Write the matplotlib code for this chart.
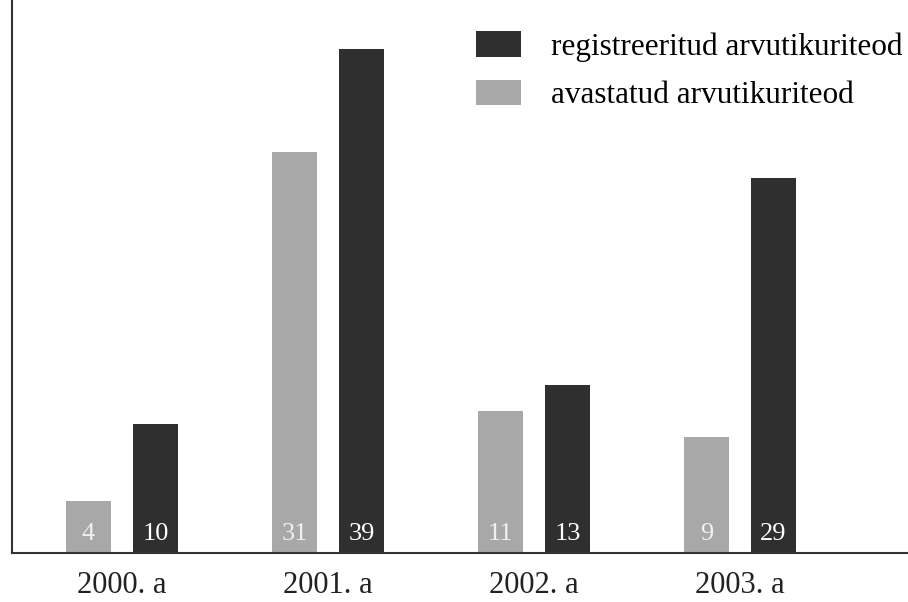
import matplotlib.pyplot as plt
import numpy as np

years = ["2000. a", "2001. a", "2002. a", "2003. a"]
avastatud = [4, 31, 11, 9]
registreeritud = [10, 39, 13, 29]

dark = "#2f2f2f"
light = "#a8a8a8"

plt.rcParams["font.family"] = "Liberation Serif"

fig = plt.figure(figsize=(9.08, 6.02), dpi=100)
ax = fig.add_axes([12 / 908, 49 / 602, 896 / 908, 553 / 602])

x = np.arange(len(years))
w = 0.218
off = 0.163
b1 = ax.bar(x - off, avastatud, w, color=light, label="avastatud arvutikuriteod")
b2 = ax.bar(x + off, registreeritud, w, color=dark, label="registreeritud arvutikuriteod")

for xi, v in zip(x, avastatud):
    ax.text(xi - off, 1.5, str(v), ha="center", va="center", color="#f0f0f0", fontsize=19)
for xi, v in zip(x, registreeritud):
    ax.text(xi + off, 1.5, str(v), ha="center", va="center", color="white", fontsize=19)

ax.set_xlim(-0.534, 3.816)
ax.set_ylim(0, 42.8)
ax.set_xticks(x)
ax.set_xticklabels(years, fontsize=22, color="#222222")
ax.tick_params(axis="x", length=0, pad=13)
ax.set_yticks([])
for s in ["top", "right"]:
    ax.spines[s].set_visible(False)
ax.spines["left"].set_linewidth(1.5)
ax.spines["bottom"].set_linewidth(1.5)
ax.spines["left"].set_color("#333333")
ax.spines["bottom"].set_color("#333333")

ax.legend(handles=[b2, b1], loc="upper left", bbox_to_anchor=(0.5038, 0.966),
          frameon=False, fontsize=22.5, handlelength=1.44, handleheight=0.87,
          handletextpad=0.96, labelspacing=0.58, borderaxespad=0)

fig.savefig("out.png", dpi=100)
